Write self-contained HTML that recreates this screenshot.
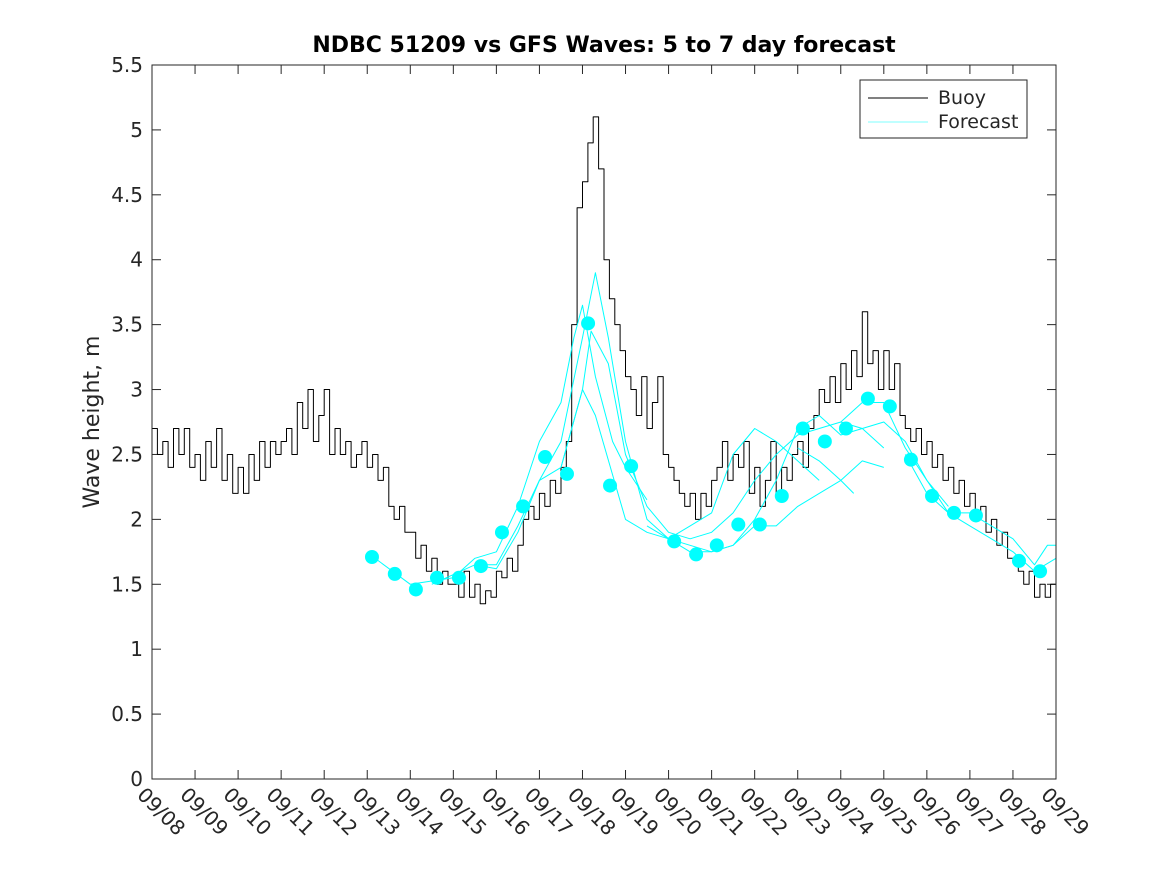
<!DOCTYPE html>
<html><head><meta charset="utf-8"><style>
body{margin:0;background:#fff;}
svg{display:block;font-family:"DejaVu Sans","Liberation Sans",sans-serif;}
</style></head><body>
<svg id="chart" width="1167" height="875">
<rect width="1167" height="875" fill="#fff"/>
<text x="604" y="52" text-anchor="middle" font-size="22" font-weight="bold" fill="#000">NDBC 51209 vs GFS Waves: 5 to 7 day forecast</text>
<text transform="translate(99,422) rotate(-90)" text-anchor="middle" font-size="22" fill="#262626">Wave height, m</text>
<g id="grid"></g>
<g id="series"></g>
<rect x="152" y="65" width="904" height="714" fill="none" stroke="#262626" stroke-width="1"/>
<g>
<rect x="860" y="80" width="167" height="58" fill="#fff" stroke="#262626"/>
<line x1="868" y1="98" x2="928" y2="98" stroke="#000"/>
<text x="938" y="104" font-size="19" fill="#262626">Buoy</text>
<line x1="868" y1="122" x2="928" y2="122" stroke="#00ffff" stroke-width="0.6"/>
<text x="938" y="128" font-size="19" fill="#262626">Forecast</text>
</g>
</svg>
<script>
const xTickLabels=["09/08","09/09","09/10","09/11","09/12","09/13","09/14","09/15","09/16","09/17","09/18","09/19","09/20","09/21","09/22","09/23","09/24","09/25","09/26","09/27","09/28","09/29"];
const yTicks=[0,0.5,1,1.5,2,2.5,3,3.5,4,4.5,5,5.5];
const buoyValues=[
2.7,2.5,2.6,2.4,2.7,2.5,2.7,2.4,
2.5,2.3,2.6,2.4,2.7,2.3,2.5,2.2,
2.4,2.2,2.5,2.3,2.6,2.4,2.6,2.5,
2.6,2.7,2.5,2.9,2.7,3.0,2.6,2.8,
3.0,2.5,2.7,2.5,2.6,2.4,2.5,2.6,
2.4,2.5,2.3,2.4,2.1,2.0,2.1,1.9,
1.9,1.7,1.8,1.6,1.7,1.5,1.6,1.5,
1.5,1.4,1.6,1.4,1.5,1.35,1.45,1.4,
1.6,1.55,1.7,1.6,1.8,2.0,2.1,2.0,
2.2,2.1,2.3,2.2,2.4,2.6,3.5,4.4,
4.6,4.9,5.1,4.7,4.0,3.7,3.5,3.3,
3.1,3.0,2.8,3.1,2.7,2.9,3.1,2.5,
2.4,2.3,2.2,2.1,2.2,2.0,2.2,2.1,
2.3,2.4,2.6,2.3,2.5,2.4,2.6,2.2,
2.4,2.1,2.3,2.6,2.2,2.4,2.3,2.5,
2.6,2.4,2.7,2.8,3.0,2.9,3.1,2.9,
3.2,3.0,3.3,3.1,3.6,3.2,3.3,3.0,
3.3,3.0,3.2,2.8,2.7,2.6,2.7,2.5,
2.6,2.4,2.5,2.3,2.4,2.2,2.3,2.1,
2.2,2.0,2.1,1.9,2.0,1.8,1.9,1.7,
1.7,1.6,1.5,1.6,1.4,1.5,1.4,1.5,
1.5];
const buoyStep=0.125;
const markerDays=[5.11,5.64,6.13,6.62,7.13,7.64,8.13,8.62,9.13,9.64,10.13,10.64,11.13,12.13,12.64,13.12,13.62,14.12,14.63,15.12,15.63,16.12,16.63,17.14,17.63,18.12,18.63,19.14,20.14,20.63];
const markerValues=[1.71,1.58,1.46,1.55,1.55,1.64,1.90,2.10,2.48,2.35,3.51,2.26,2.41,1.83,1.73,1.80,1.96,1.96,2.18,2.70,2.60,2.70,2.93,2.87,2.46,2.18,2.05,2.03,1.68,1.60];
const fc1Days=[5.1,6,7,7.5,8,8.5,9,9.5,9.8,10,10.3,10.7,11,11.5];
const fc1Values=[1.72,1.5,1.55,1.7,1.75,2.1,2.6,2.9,3.4,3.65,3.1,2.6,2.4,2.15];
const fc2Days=[6.5,7.5,8,8.5,9,9.5,10,10.3,10.6,11,11.5,12,12.5,13,13.5,14,14.5,15,15.5];
const fc2Values=[1.5,1.65,1.65,1.95,2.3,2.6,3.4,3.9,3.4,2.6,2.0,1.85,1.95,2.05,2.5,2.7,2.6,2.45,2.3];
const fc3Days=[7.5,8,8.5,9,9.5,10,10.2,10.6,11,11.5,12,12.5,13,13.5,14,14.5,15,15.5,16,16.5,17];
const fc3Values=[1.65,1.62,1.9,2.3,2.4,3.0,3.45,3.2,2.5,2.1,1.9,1.85,1.9,2.05,2.3,2.5,2.65,2.7,2.75,2.7,2.55];
const fc4Days=[9.5,10,10.3,11,11.5,12,13,13.5,14,14.5,15,15.5,16,16.5,17,17.5,18,18.5];
const fc4Values=[2.4,3.0,2.8,2.0,1.9,1.85,1.75,1.8,2.0,2.3,2.7,2.8,2.65,2.7,2.75,2.6,2.3,2.1];
const fc5Days=[11.5,12,12.5,13,13.5,14,14.5,15,15.5,16,16.5,17];
const fc5Values=[1.95,1.85,1.75,1.75,1.8,1.95,1.95,2.1,2.2,2.3,2.45,2.4];
const fc6Days=[16,16.5,17,17.5,18,18.5,19,19.5,20,20.5,21];
const fc6Values=[2.75,2.9,2.9,2.55,2.3,2.05,1.95,1.85,1.75,1.6,1.7];
const fc7Days=[17.5,18,18.5,19,19.5,20,20.5,20.8,21];
const fc7Values=[2.5,2.2,2.05,2.05,1.95,1.85,1.65,1.8,1.8];
const fc8Days=[15,15.5,16,16.3];
const fc8Values=[2.55,2.45,2.3,2.2];

const NS="http://www.w3.org/2000/svg";
const X0=152,X1=1056,Y0=779,Y1=65;
function xs(d){return X0+(X1-X0)*d/21;}
function ys(v){return Y0-(Y0-Y1)*v/5.5;}
const grid=document.getElementById('grid');
const ser=document.getElementById('series');
function mk(tag,attrs,parent){const e=document.createElementNS(NS,tag);for(const k in attrs)e.setAttribute(k,attrs[k]);parent.appendChild(e);return e;}
yTicks.forEach(v=>{
  const y=ys(v);
  const t1=mk('line',{x1:X0,x2:X0+9,y1:y,y2:y,stroke:'#262626'},grid);
  
  
  const t2=mk('line',{x1:X1-9,x2:X1,y1:y,y2:y,stroke:'#262626'},grid);
  
  
  const tx=mk('text',{x:X0-9,y:y+7,'text-anchor':'end','font-size':'20',fill:'#262626'},grid);
  tx.textContent=String(v);
  
  
});
xTickLabels.forEach((lab,i)=>{
  const x=xs(i);
  const t1=mk('line',{x1:x,x2:x,y1:Y0,y2:Y0-9,stroke:'#262626'},grid);
  
  
  const t2=mk('line',{x1:x,x2:x,y1:Y1,y2:Y1+9,stroke:'#262626'},grid);
  
  
  const tx=mk('text',{transform:`translate(${x-16},${Y0+17}) rotate(45)`,'font-size':'20',fill:'#262626'},grid);
  tx.textContent=lab;
  
  
});
function poly(days,vals,stroke,w,name){
  const pts=days.map((d,i)=>xs(d).toFixed(1)+','+ys(vals[i]).toFixed(1)).join(' ');
  const p=mk('polyline',{points:pts,fill:'none',stroke:stroke,'stroke-width':w,'stroke-linejoin':'round'},ser);
  
  
}
const sd=[],sv=[];
buoyValues.forEach((v,i)=>{const d=i*buoyStep;if(i>0){sd.push(d);sv.push(buoyValues[i-1]);}sd.push(d);sv.push(v);});
poly(sd,sv,'#000',1,'buoy-line');
const fcs=[[fc1Days,fc1Values],[fc2Days,fc2Values],[fc3Days,fc3Values],[fc4Days,fc4Values],[fc5Days,fc5Values],[fc6Days,fc6Values],[fc7Days,fc7Values],[fc8Days,fc8Values]];
fcs.forEach((f,i)=>poly(f[0],f[1],'#00ffff',1,'forecast-line-'+(i+1)));
markerDays.forEach((d,i)=>{
  const c=mk('circle',{cx:xs(d),cy:ys(markerValues[i]),r:7,fill:'#00ffff'},ser);
  
  
});
</script>
</body></html>
